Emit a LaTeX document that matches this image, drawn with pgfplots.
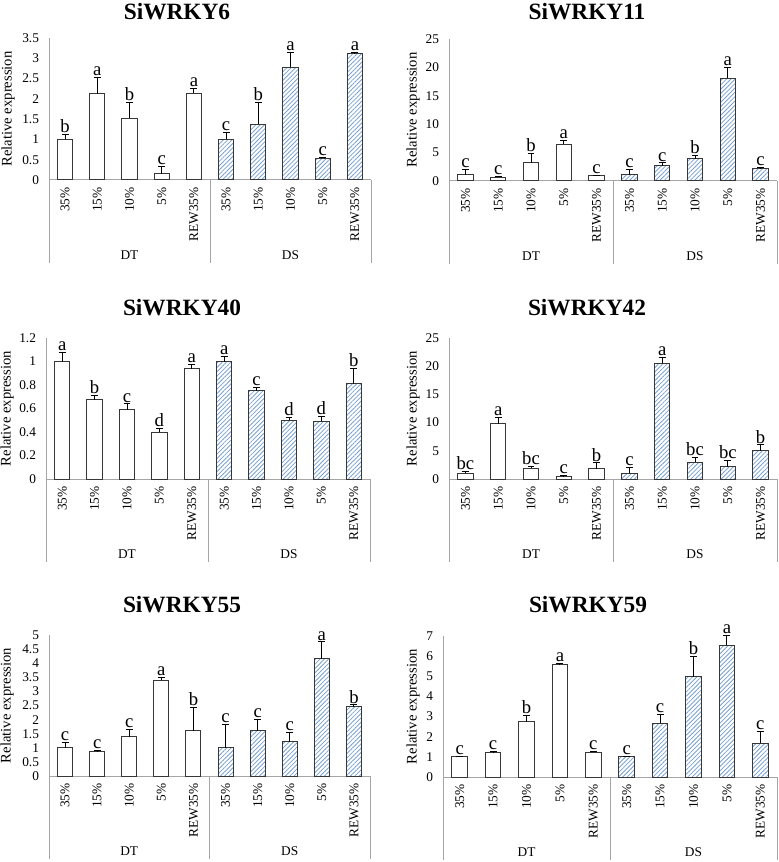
\documentclass[border=0pt]{standalone}
\usepackage{fontspec}
\setmainfont{Liberation Serif}
\usepackage{pgfplots}
\pgfplotsset{compat=1.18}
\usepackage{pgfplotstable}
\usetikzlibrary{patterns.meta}

\definecolor{axgray}{RGB}{165,165,165}
\definecolor{bargray}{RGB}{55,55,55}
\definecolor{hatch}{RGB}{120,160,210}

\newcommand\tf{\fontsize{10}{12}\selectfont}
\newcommand\yf{\fontsize{11}{13}\selectfont}
\newcommand\lf{\fontsize{14}{16}\selectfont}
\newcommand\ttf{\fontsize{17.5}{20}\selectfont\bfseries}

\pgfplotstableread{
x y err lab
0 1.00 0.13 b
1 2.13 0.40 a
2 1.52 0.40 b
3 0.16 0.17 c
4 2.14 0.12 a
5 1.00 0.17 c
6 1.38 0.54 b
7 2.78 0.37 a
8 0.54 0.02 c
9 3.11 0.03 a
}\tA
\pgfplotstableread{
x y err lab
0 1.12 0.95 c
1 0.70 0.12 c
2 3.18 1.70 b
3 6.49 0.70 a
4 0.94 0.05 c
5 1.12 0.95 c
6 2.65 0.55 c
7 3.95 0.50 b
8 18.1 1.90 a
9 2.12 0.25 c
}\tB
\pgfplotstableread{
x y err lab
0 1.00 0.075 a
1 0.676 0.037 b
2 0.589 0.050 c
3 0.400 0.030 d
4 0.940 0.036 a
5 1.00 0.045 a
6 0.750 0.030 c
7 0.498 0.025 d
8 0.490 0.045 d
9 0.810 0.130 b
}\tC
\pgfplotstableread{
x y err lab
0 1.06 0.30 bc
1 9.82 1.05 a
2 1.94 0.35 bc
3 0.41 0.20 c
4 1.82 1.05 b
5 1.06 0.95 c
6 20.5 1.00 a
7 3.00 0.80 bc
8 2.18 1.10 bc
9 5.00 1.06 b
}\tD
\pgfplotstableread{
x y err lab
0 1.00 0.18 c
1 0.86 0.05 c
2 1.39 0.26 c
3 3.40 0.10 a
4 1.61 0.82 b
5 1.00 0.83 c
6 1.61 0.41 c
7 1.22 0.33 c
8 4.15 0.61 a
9 2.45 0.07 b
}\tE
\pgfplotstableread{
x y err lab
0 1.00 0.04 c
1 1.24 0.02 c
2 2.74 0.30 b
3 5.58 0.08 a
4 1.24 0.05 c
5 1.00 0.04 c
6 2.66 0.44 c
7 4.99 0.99 b
8 6.55 0.47 a
9 1.68 0.57 c
}\tF

\pgfplotsset{
  panel/.style={
    scale only axis, clip=false, anchor=south west,
    xmin=-0.5, xmax=9.5, ymin=0,
    axis lines*=left,
    axis line style={draw=axgray, line width=0.75pt},
    major tick length=0pt,
    xtick={0,...,9},
    xticklabels={35\%,15\%,10\%,5\%,REW35\%,35\%,15\%,10\%,5\%,REW35\%},
    xticklabel style={font=\tf, yshift=-2pt, rotate=90, anchor=east},
    yticklabel style={font=\tf, xshift=-4pt},
    /pgf/number format/assume math mode=true,
  },
  dtbar/.style={ybar, bar width=0.47, bar shift=0pt, draw=bargray, line width=0.75pt, fill=white,
    restrict x to domain=-0.5:4.5,
    error bars/y dir=plus, error bars/y explicit,
    error bars/error bar style={black, line width=0.75pt},
    error bars/error mark options={black, line width=0.75pt, mark size=2.6pt, rotate=90}},
  dsbar/.style={ybar, bar width=0.47, bar shift=0pt, draw=bargray, line width=0.75pt,
    pattern={Lines[angle=45,distance=2.3pt,line width=0.6pt]}, pattern color=hatch,
    restrict x to domain=4.5:9.5,
    error bars/y dir=plus, error bars/y explicit,
    error bars/error bar style={black, line width=0.75pt},
    error bars/error mark options={black, line width=0.75pt, mark size=2.6pt, rotate=90}},
  letters/.style={draw=none, mark=none, nodes near coords, point meta=explicit symbolic,
    nodes near coords style={font=\lf, text=black, anchor=south, inner sep=1pt}},
}

\newcommand\groupdeco{%
  \draw[axgray, line width=0.75pt] (axis cs:-0.5,0) -- ++(0pt,-62pt);
  \draw[axgray, line width=0.75pt] (axis cs:4.5,0) -- ++(0pt,-62pt);
  \draw[axgray, line width=0.75pt] (axis cs:9.5,0) -- ++(0pt,-62pt);
  \node[font=\tf] at ([yshift=-56pt]axis cs:2,0) {DT};
  \node[font=\tf] at ([yshift=-56pt]axis cs:7,0) {DS};
}
\newcommand\bars[1]{%
  \addplot[dtbar] table[x=x,y=y,y error=err]{#1};
  \addplot[dsbar] table[x=x,y=y,y error=err]{#1};
  \addplot[letters] table[x=x,y expr=\thisrow{y}+\thisrow{err},meta=lab]{#1};
}

\begin{document}
\begin{tikzpicture}
\useasboundingbox (0pt,0pt) rectangle (583.5pt,-646.5pt);

% Panel 1
\begin{axis}[panel, at={(36.75pt,-135pt)}, width=241.5pt, height=106.5pt,
  ymax=3.5, ytick distance=0.5]
\bars{\tA}
\groupdeco
\end{axis}
\node[font=\ttf] at (132.75pt,-9pt) {SiWRKY6};
\node[font=\yf, rotate=90] at (6pt,-81.75pt) {Relative expression};

% Panel 2
\begin{axis}[panel, at={(336.75pt,-135.75pt)}, width=246pt, height=106.5pt,
  ymax=25, ytick distance=5]
\bars{\tB}
\groupdeco
\end{axis}
\node[font=\ttf] at (440.25pt,-9pt) {SiWRKY11};
\node[font=\yf, rotate=90] at (309.75pt,-82.5pt) {Relative expression};

% Panel 3
\begin{axis}[panel, at={(34.5pt,-359.25pt)}, width=243pt, height=105.75pt,
  ymax=1.2, ytick distance=0.2]
\bars{\tC}
\groupdeco
\end{axis}
\node[font=\ttf] at (136.5pt,-231pt) {SiWRKY40};
\node[font=\yf, rotate=90] at (5.25pt,-306.4pt) {Relative expression};

% Panel 4
\begin{axis}[panel, at={(336.75pt,-359.25pt)}, width=246pt, height=105.75pt,
  ymax=25, ytick distance=5]
\bars{\tD}
\groupdeco
\end{axis}
\node[font=\ttf] at (440.25pt,-231pt) {SiWRKY42};
\node[font=\yf, rotate=90] at (309.75pt,-306.4pt) {Relative expression};

% Panel 5
\begin{axis}[panel, at={(36.75pt,-582pt)}, width=240.75pt, height=105.75pt,
  ymax=5, ytick distance=0.5]
\bars{\tE}
\groupdeco
\end{axis}
\node[font=\ttf] at (136.5pt,-453.75pt) {SiWRKY55};
\node[font=\yf, rotate=90] at (5.25pt,-529.1pt) {Relative expression};

% Panel 6
\begin{axis}[panel, at={(332.25pt,-582.75pt)}, width=250.5pt, height=105.75pt,
  ymax=7, ytick distance=1]
\bars{\tF}
\groupdeco
\end{axis}
\node[font=\ttf] at (441pt,-453.75pt) {SiWRKY59};
\node[font=\yf, rotate=90] at (309.75pt,-529.9pt) {Relative expression};
\end{tikzpicture}
\end{document}
